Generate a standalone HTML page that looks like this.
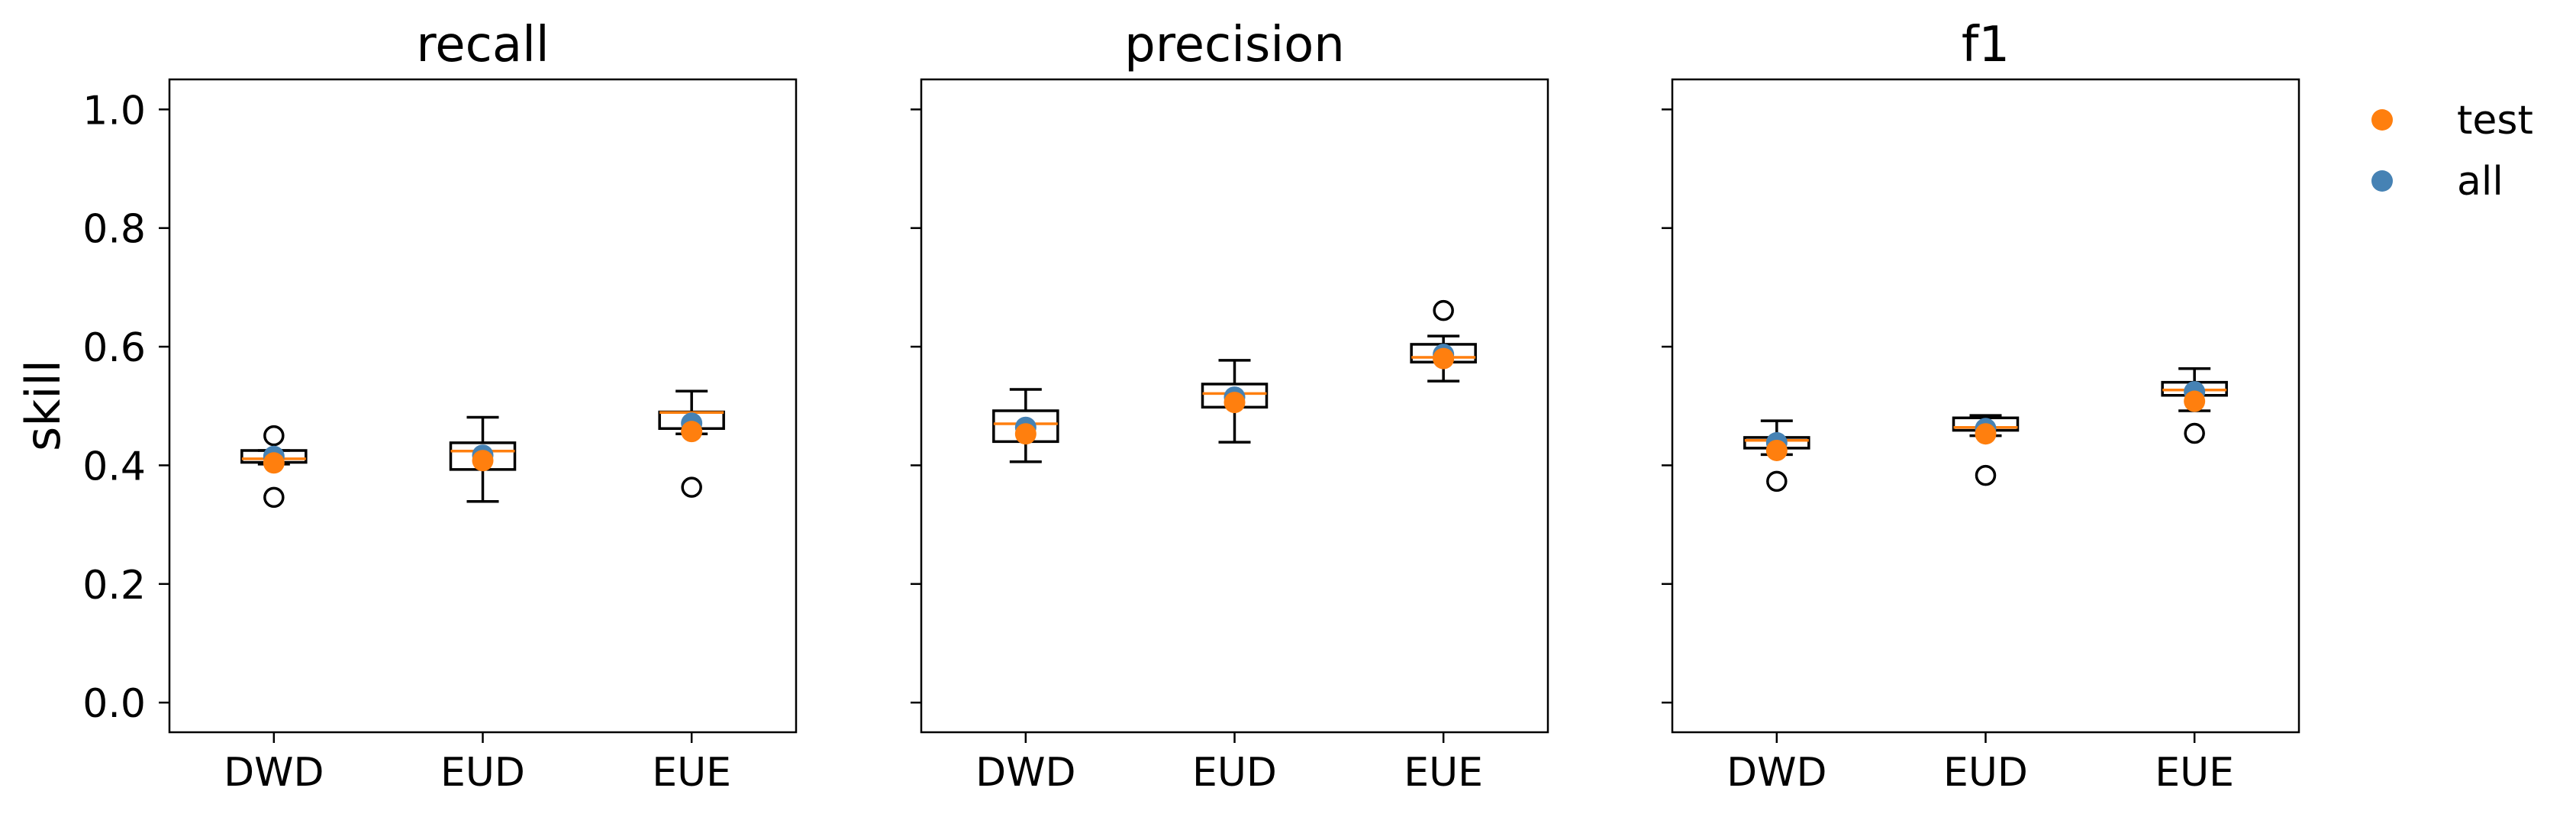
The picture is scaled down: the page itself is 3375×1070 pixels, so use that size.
<!DOCTYPE html>
<html><head><meta charset="utf-8"><style>
html,body{margin:0;padding:0;background:#fff;}
svg{display:block;font-family:"DejaVu Sans","Liberation Sans",sans-serif;}
</style></head><body>
<svg id="chart" width="3375" height="1070" viewBox="0 0 3375 1070" xmlns="http://www.w3.org/2000/svg"></svg>
<script>
const categories = ["DWD","EUD","EUE"];
const panels = ["recall","precision","f1"];
const yTicks = [0.0,0.2,0.4,0.6,0.8,1.0];
const yTickLabels = ["0.0","0.2","0.4","0.6","0.8","1.0"];
// per panel, per category: [whiskerLow, q1, median, q3, whiskerHigh]
const recallBoxes = [[0.402,0.405,0.411,0.425,0.425],[0.339,0.393,0.424,0.438,0.481],[0.453,0.462,0.489,0.490,0.525]];
const precisionBoxes = [[0.406,0.440,0.470,0.492,0.528],[0.439,0.498,0.521,0.537,0.577],[0.542,0.574,0.582,0.604,0.618]];
const f1Boxes = [[0.418,0.429,0.442,0.447,0.475],[0.450,0.459,0.464,0.480,0.484],[0.492,0.518,0.527,0.540,0.563]];
const recallOutliers = [[0.450,0.346],[],[0.363]];
const precisionOutliers = [[],[],[0.661]];
const f1Outliers = [[0.373],[0.383],[0.454]];
const recallAll = [0.415,0.417,0.471];
const recallTest = [0.404,0.408,0.457];
const precisionAll = [0.464,0.515,0.587];
const precisionTest = [0.453,0.506,0.580];
const f1All = [0.438,0.462,0.524];
const f1Test = [0.425,0.453,0.508];

const boxes=[recallBoxes,precisionBoxes,f1Boxes];
const outliers=[recallOutliers,precisionOutliers,f1Outliers];
const allVals=[recallAll,precisionAll,f1All];
const testVals=[recallTest,precisionTest,f1Test];

const NS="http://www.w3.org/2000/svg";
const svg=document.getElementById('chart');
function mk(tag,attrs,parent){const e=document.createElementNS(NS,tag);for(const k in attrs)e.setAttribute(k,attrs[k]);(parent||svg).appendChild(e);return e;}
const axLefts=[222,1207,2191], axW=821, axTop=104, axBot=959;
const yMin=-0.05,yMax=1.0506;
function yS(v){return axBot-(v-yMin)/(yMax-yMin)*(axBot-axTop);}
function xS(p,i){return axLefts[p]+(i+0.5)*axW/3;}
const BLUE="#4682b4", ORANGE="#ff7f0e";

for(let p=0;p<3;p++){
  const g=mk('g',{});
  
  
  const t=mk('text',{x:axLefts[p]+axW/2,y:80,'font-size':64,'text-anchor':'middle',fill:'#000'},g);
  t.textContent=panels[p];
  
  
  for(let k=0;k<yTicks.length;k++){
    const y=yS(yTicks[k]);
    const tk=mk('line',{x1:axLefts[p]-14,x2:axLefts[p],y1:y,y2:y,stroke:'#000','stroke-width':2.5},g);
    
    
    if(p===0){
      const tl=mk('text',{x:axLefts[p]-31,y:y+19,'font-size':52,'text-anchor':'end'},g);
      tl.textContent=yTickLabels[k];
      
      
    }
  }
  for(let i=0;i<3;i++){
    const x=xS(p,i);
    const tk=mk('line',{x1:x,x2:x,y1:axBot,y2:axBot+14,stroke:'#000','stroke-width':2.5},g);
    
    
    const tl=mk('text',{x:x,y:1029,'font-size':52,'text-anchor':'middle'},g);
    tl.textContent=categories[i];
    
    
    const b=boxes[p][i];
    const bg=mk('g',{fill:'none',stroke:'#000','stroke-width':3.5},g);
    
    
    mk('line',{x1:x,x2:x,y1:yS(b[0]),y2:yS(b[1])},bg);
    mk('line',{x1:x,x2:x,y1:yS(b[3]),y2:yS(b[4])},bg);
    mk('line',{x1:x-21,x2:x+21,y1:yS(b[0]),y2:yS(b[0])},bg);
    mk('line',{x1:x-21,x2:x+21,y1:yS(b[4]),y2:yS(b[4])},bg);
    mk('rect',{x:x-42,y:yS(b[3]),width:84,height:yS(b[1])-yS(b[3])},bg);
    const med=mk('line',{x1:x-42,x2:x+42,y1:yS(b[2]),y2:yS(b[2]),stroke:ORANGE,'stroke-width':3.5},g);
    
    
    for(const o of outliers[p][i]){
      const c=mk('circle',{cx:x,cy:yS(o),r:12,fill:'none',stroke:'#000','stroke-width':3.5},g);
      
      
    }
    const a=mk('circle',{cx:x,cy:yS(allVals[p][i]),r:14,fill:BLUE},g);
    
    
    const te=mk('circle',{cx:x,cy:yS(testVals[p][i]),r:14,fill:ORANGE},g);
    
    
  }
  const fr=mk('rect',{x:axLefts[p],y:axTop,width:axW,height:axBot-axTop,fill:'none',stroke:'#000','stroke-width':2.5},g);
  
  
}
const yl=mk('text',{x:0,y:0,'font-size':62,'text-anchor':'middle',transform:'translate(78,531) rotate(-90)'});
yl.textContent='skill';



const leg=mk('g',{});


const legItems=[["test",ORANGE,157],["all",BLUE,237]];
for(const it of legItems){
  const e=mk('g',{},leg);
  
  
  mk('circle',{cx:3121,cy:it[2],r:14,fill:it[1]},e);
  const tx=mk('text',{x:3219,y:it[2]+18,'font-size':52},e);
  tx.textContent=it[0];
}
</script>
</body></html>
